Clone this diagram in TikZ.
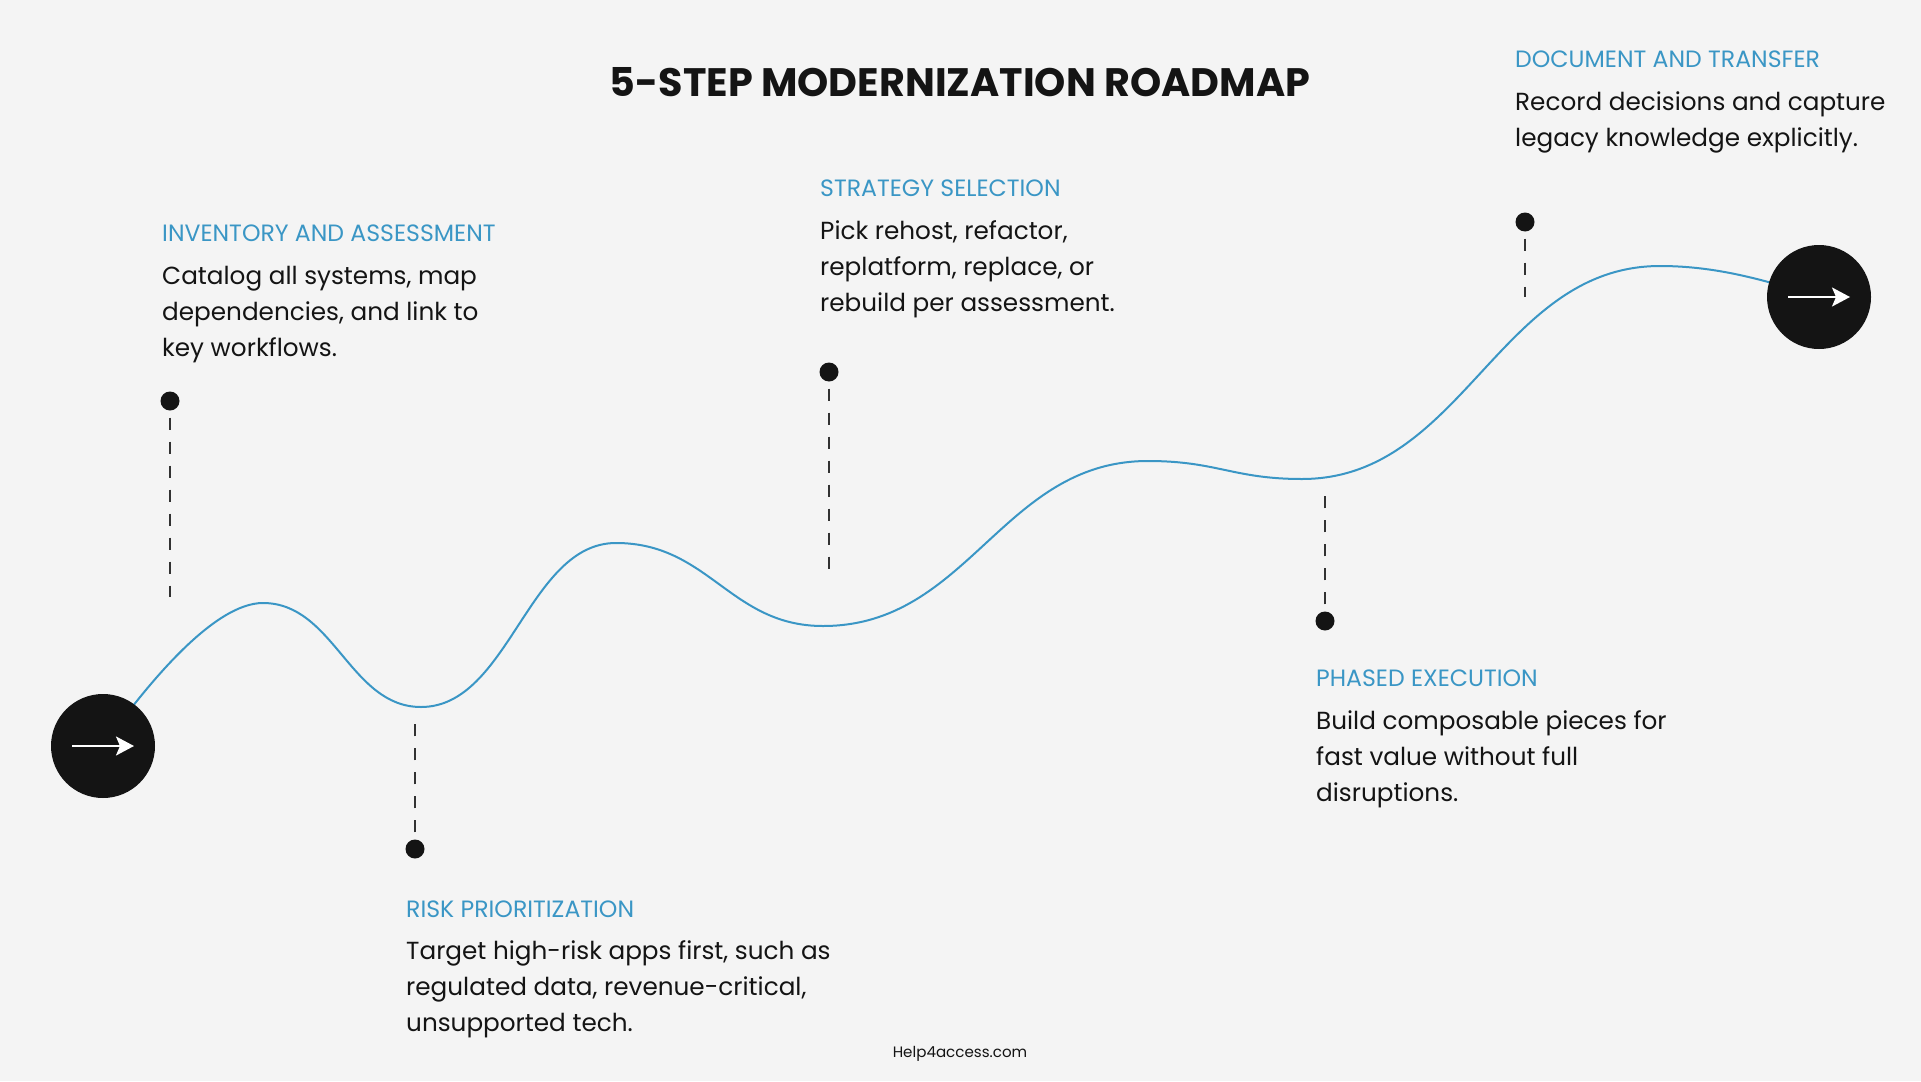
\documentclass[tikz,border=0pt]{standalone}
\usepackage{fontspec}
\setmainfont{Poppins}
\usetikzlibrary{arrows.meta}
\definecolor{rmblue}{RGB}{58,150,197}
\definecolor{rmink}{RGB}{20,20,20}
\definecolor{rmdash}{RGB}{50,50,50}
\definecolor{rmbg}{RGB}{244,244,244}

\begin{document}
\begin{tikzpicture}[x=1pt,y=-1pt,>=Stealth,
  endcap/.style={circle,fill=rmink,minimum size=104pt,inner sep=0pt},
  stopdot/.style={circle,fill=rmink,minimum size=19pt,inner sep=0pt},
  stemline/.style={rmdash,line width=2pt,dash pattern=on 12pt off 12pt,shorten <=7pt},
  steptitle/.style={anchor=base west,inner sep=0pt,text=rmblue,font=\fontsize{23.6}{28}\selectfont},
  stepbody/.style={anchor=base west,inner sep=0pt,text=rmink,align=left,font=\fontsize{24.7}{36}\selectfont}]
  \fill[rmbg] (0,0) rectangle (1921,1081);

  \node[anchor=base,inner sep=0pt,text=rmink,font=\fontsize{39.7}{46}\selectfont\bfseries]
        (title) at (960,96) {5-STEP MODERNIZATION ROADMAP};

  % road
  \coordinate (w0) at (103,746);
  \coordinate (w8) at (1819,297);
  \draw[rmblue,line width=2pt]
    (w0) .. controls (150,680) and (215,603) .. (263,603)
         .. controls (334,603) and (350,707) .. (421,707)
         .. controls (509,707) and (528,543) .. (616,543)
         .. controls (709,543) and (730,626) .. (823,626)
         .. controls (969,626) and (1002,461) .. (1148,461)
         .. controls (1217,461) and (1233,479) .. (1302,479)
         .. controls (1463,479) and (1499,266) .. (1660,266)
         .. controls (1720,266) and (1770,282) .. (w8);

  \node[endcap] (start) at (w0) {};
  \node[endcap] (finish) at (w8) {};
  \draw[white,line width=2pt,-{Stealth[length=18pt,width=19pt,inset=4pt]}]
    ([xshift=-31pt]start.center) -- ([xshift=31pt]start.center);
  \draw[white,line width=2pt,-{Stealth[length=18pt,width=19pt,inset=4pt]}]
    ([xshift=-31pt]finish.center) -- ([xshift=31pt]finish.center);

  % markers
  \node[stopdot] (inv) at (170,401) {};
  \node[stopdot] (risk) at (415,849) {};
  \node[stopdot] (strat) at (829,372) {};
  \node[stopdot] (phase) at (1325,621) {};
  \node[stopdot] (docu) at (1525,222) {};
  \coordinate (invend) at (170,597);
  \coordinate (riskend) at (415,723);
  \coordinate (stratend) at (829,570);
  \coordinate (phaseend) at (1325,492);
  \coordinate (docuend) at (1525,297);
  \draw[stemline] (inv) -- (invend);
  \draw[stemline] (risk) -- (riskend);
  \draw[stemline] (strat) -- (stratend);
  \draw[stemline] (phase) -- (phaseend);
  \draw[stemline] (docu) -- (docuend);

  % labels (body nodes sit on the baseline of their last line)
  \node[steptitle] (invhead) at (162,241) {INVENTORY AND ASSESSMENT};
  \node[stepbody] (invtext) at (162,356)
    {Catalog all systems, map\\dependencies, and link to\\key workflows.};
  \node[steptitle] (riskhead) at (406,917) {RISK PRIORITIZATION};
  \node[stepbody] (risktext) at (406,1031)
    {Target high-risk apps first, such as\\regulated data, revenue-critical,\\unsupported tech.};
  \node[steptitle] (strathead) at (820,196) {STRATEGY SELECTION};
  \node[stepbody] (strattext) at (820,311)
    {Pick rehost, refactor,\\replatform, replace, or\\rebuild per assessment.};
  \node[steptitle] (phasehead) at (1316,686) {PHASED EXECUTION};
  \node[stepbody] (phasetext) at (1316,801)
    {Build composable pieces for\\fast value without full\\disruptions.};
  \node[steptitle] (docuhead) at (1515,67) {DOCUMENT AND TRANSFER};
  \node[stepbody] (docutext) at (1515,146)
    {Record decisions and capture\\legacy knowledge explicitly.};

  \node[anchor=base,inner sep=0pt,text=rmink,font=\fontsize{15.1}{18}\selectfont]
        (footer) at (960,1057) {Help4access.com};
\end{tikzpicture}
\end{document}
